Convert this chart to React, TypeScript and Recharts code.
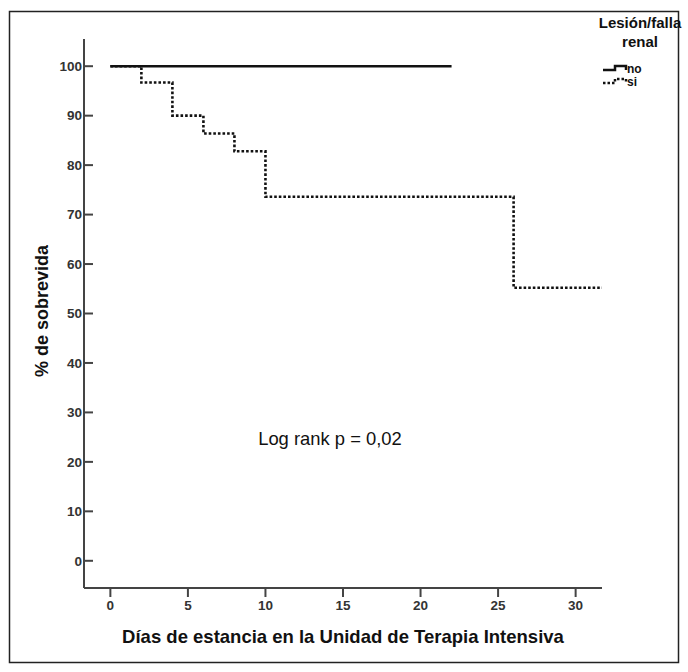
import { LineChart, Line, XAxis, YAxis } from 'recharts';

const xTicks = [0, 5, 10, 15, 20, 25, 30];
const yTicks = [0, 10, 20, 30, 40, 50, 60, 70, 80, 90, 100];

// grupo "no" (sin lesión/falla renal)
const noDays = [0, 22];
const noSurv = [100, 100];

// grupo "si"
const siDays = [0, 2, 4, 6, 8, 10, 26, 31.7];
const siSurv = [100, 96.7, 90, 86.4, 82.8, 73.6, 55.2, 55.2];

const noData = noDays.map((d, i) => ({ day: d, surv: noSurv[i] }));
const siData = siDays.map((d, i) => ({ day: d, surv: siSurv[i] }));

const FONT = 'Arial, "Liberation Sans", sans-serif';
const AXIS = '#444';

// y ticks point into the plot, labels sit left of the axis
const YTick = ({ x, y, payload }: any) => (
  <g>
    <line x1={x + 2} y1={y} x2={x + 11} y2={y} stroke={AXIS} strokeWidth={2} />
    <text x={x} y={y} dy="0.35em" textAnchor="end" fill="#333" fontSize={13.5} fontWeight="bold" fontFamily={FONT}>
      {payload.value}
    </text>
  </g>
);

export default function App() {
  return (
    <div style={{ position: 'absolute', left: 0, top: 0, width: 688, height: 672, background: '#fff' }}>
      <LineChart
        width={688}
        height={672}
        margin={{ top: 39, right: 86, bottom: 54, left: 0 }}
      >
        <XAxis
          type="number"
          dataKey="day"
          domain={[-1.7, 31.7]}
          ticks={xTicks}
          allowDataOverflow
          height={30}
          axisLine={{ stroke: AXIS, strokeWidth: 2 }}
          tickLine={{ stroke: AXIS, strokeWidth: 2 }}
          tickSize={9}
          tickMargin={3}
          tick={{ fill: '#333', fontSize: 13.5, fontWeight: 'bold', fontFamily: FONT }}
        />
        <YAxis
          type="number"
          dataKey="surv"
          domain={[-5.5, 105.5]}
          ticks={yTicks}
          allowDataOverflow
          width={84}
          axisLine={{ stroke: AXIS, strokeWidth: 2 }}
          tickLine={false}
          tickSize={0}
          tickMargin={2}
          tick={<YTick />}
        />
        <Line
          data={noData}
          dataKey="surv"
          type="stepAfter"
          stroke="#111"
          strokeWidth={2.5}
          dot={false}
          isAnimationActive={false}
        />
        <Line
          data={siData}
          dataKey="surv"
          type="stepAfter"
          stroke="#111"
          strokeWidth={2.6}
          strokeDasharray="2.6 2"
          dot={false}
          isAnimationActive={false}
        />
      </LineChart>

      <svg width={688} height={672} style={{ position: 'absolute', left: 0, top: 0, pointerEvents: 'none' }}>
        <rect x={9.5} y={11.5} width={669} height={651} fill="none" stroke="#222" strokeWidth={1.5} />

        {/* legend */}
        <text x={640} y={28} textAnchor="middle" fontSize={15} fontWeight="bold" fontFamily={FONT} fill="#111">Lesión/falla</text>
        <text x={640} y={47} textAnchor="middle" fontSize={15} fontWeight="bold" fontFamily={FONT} fill="#111">renal</text>
        <path d="M603 70 H615 V66 H626 V70" fill="none" stroke="#111" strokeWidth={2.5} />
        <text x={627} y={73} fontSize={12} fontWeight="bold" fontFamily={FONT} fill="#111">no</text>
        <path d="M603 83 H615 V79 H626 V83" fill="none" stroke="#111" strokeWidth={2.5} strokeDasharray="2.5 2" />
        <text x={627} y={86} fontSize={12} fontWeight="bold" fontFamily={FONT} fill="#111">si</text>

        {/* axis titles */}
        <text x={343} y={643} textAnchor="middle" fontSize={18.5} fontWeight="bold" fontFamily={FONT} fill="#111">
          Días de estancia en la Unidad de Terapia Intensiva
        </text>
        <text
          x={48}
          y={311}
          textAnchor="middle"
          fontSize={18}
          fontWeight="bold"
          fontFamily={FONT}
          fill="#111"
          transform="rotate(-90 48 311)"
        >
          % de sobrevida
        </text>

        <text x={330} y={445} textAnchor="middle" fontSize={18.4} fontFamily={FONT} fill="#111">Log rank p = 0,02</text>
      </svg>
    </div>
  );
}
